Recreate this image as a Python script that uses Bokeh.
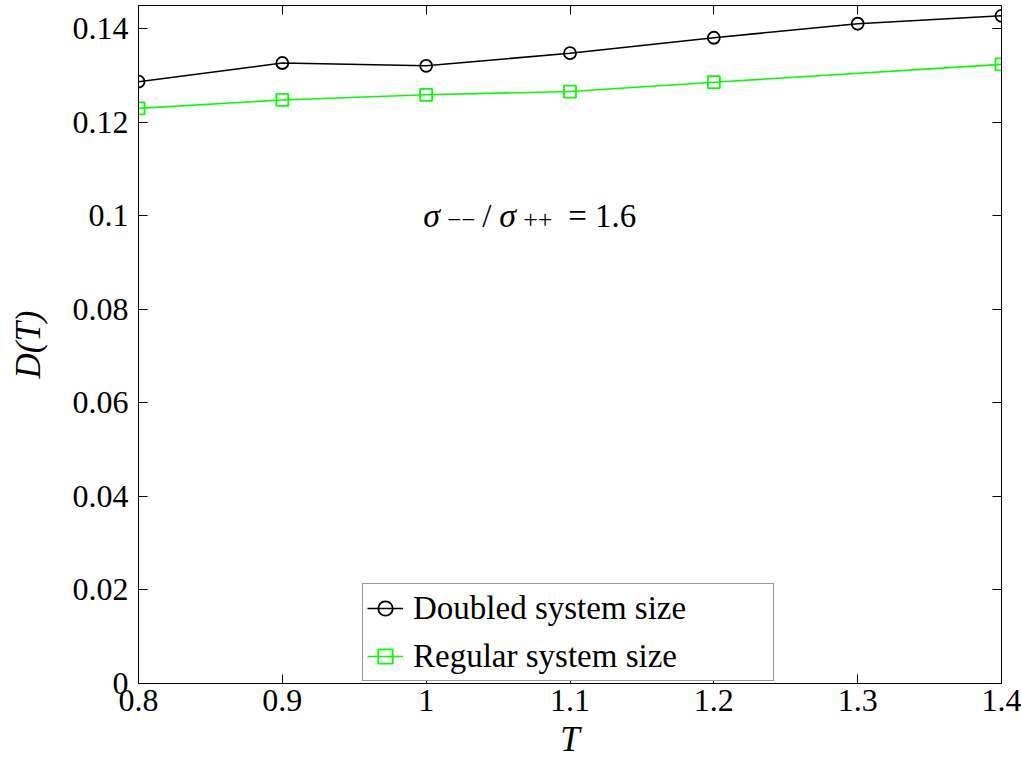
from bokeh.plotting import figure
from bokeh.models import (Range1d, FixedTicker, LinearAxis, Legend, LegendItem, Label)
from bokeh.embed import file_html
from bokeh.resources import INLINE

# ---- data ----
T_doubled = [0.8, 0.9, 1.0, 1.1, 1.2, 1.3, 1.4]
D_doubled = [0.1287, 0.1327, 0.1321, 0.1348, 0.1381, 0.1411, 0.1428]
T_regular = [0.8, 0.9, 1.0, 1.1, 1.2, 1.4]
D_regular = [0.1230, 0.1248, 0.1259, 0.1266, 0.1286, 0.1324]

x_ticks = [0.8, 0.9, 1.0, 1.1, 1.2, 1.3, 1.4]
x_tick_labels = ["0.8", "0.9", "1", "1.1", "1.2", "1.3", "1.4"]
y_ticks = [0, 0.02, 0.04, 0.06, 0.08, 0.1, 0.12, 0.14]
y_tick_labels = ["0", "0.02", "0.04", "0.06", "0.08", "0.1", "0.12", "0.14"]

series_names = ["Doubled system size", "Regular system size"]

FONT = "Liberation Serif"

p = figure(width=1021, height=765, output_backend="svg", toolbar_location=None,
           x_range=Range1d(0.8, 1.4), y_range=Range1d(0, 0.145),
           min_border_left=138, min_border_right=20, min_border_top=5, min_border_bottom=82)
p.background_fill_color = "white"
p.border_fill_color = "white"
p.outline_line_color = "black"
p.outline_line_width = 1
p.grid.visible = False

def style_axis(ax, ticks, labels, show_labels=True):
    ax.ticker = FixedTicker(ticks=ticks)
    if show_labels:
        ax.major_label_overrides = {t: l for t, l in zip(ticks, labels)}
    else:
        ax.major_label_overrides = {t: "" for t in ticks}
        ax.major_label_standoff = 0
    ax.major_tick_in = 9
    ax.major_tick_out = 0
    ax.minor_tick_in = 0
    ax.minor_tick_out = 0
    ax.axis_line_color = "black"
    ax.major_tick_line_color = "black"
    ax.major_label_text_font = FONT
    ax.major_label_text_color = "black"
    ax.major_label_text_font_size = "32px"

style_axis(p.xaxis[0], x_ticks, x_tick_labels)
style_axis(p.yaxis[0], y_ticks, y_tick_labels)
p.xaxis[0].major_label_standoff = 6
p.yaxis[0].major_label_standoff = 10

p.xaxis[0].axis_label = "T"
p.yaxis[0].axis_label = "D(T)"
for ax in (p.xaxis[0], p.yaxis[0]):
    ax.axis_label_text_font = FONT
    ax.axis_label_text_font_style = "italic"
    ax.axis_label_text_font_size = "35px"
    ax.axis_label_text_color = "black"
p.xaxis[0].axis_label_standoff = 6
p.yaxis[0].axis_label_standoff = 22

top_ax = LinearAxis()
right_ax = LinearAxis()
style_axis(top_ax, x_ticks, x_tick_labels, show_labels=False)
style_axis(right_ax, y_ticks, y_tick_labels, show_labels=False)
p.add_layout(top_ax, "above")
p.add_layout(right_ax, "right")

# ---- series ----
l1 = p.line(T_doubled, D_doubled, line_color="black", line_width=1.6)
m1 = p.scatter(T_doubled, D_doubled, marker="circle", size=12, line_color="black",
               line_width=1.8, fill_color=None)
l2 = p.line(T_regular, D_regular, line_color="#00ff00", line_width=1.6)
m2 = p.scatter(T_regular, D_regular, marker="square", size=12, line_color="#00ff00",
               line_width=1.8, fill_color=None)

legend = Legend(items=[LegendItem(label=series_names[0], renderers=[l1, m1]),
                       LegendItem(label=series_names[1], renderers=[l2, m2])],
                location=(224, 2))
legend.label_text_font = FONT
legend.label_text_font_size = "33px"
legend.label_text_color = "black"
legend.label_height = 40
legend.label_width = 356
legend.glyph_width = 36
legend.glyph_height = 40
legend.label_standoff = 10
legend.spacing = 8
legend.padding = 4
legend.margin = 0
legend.border_line_color = "#333333"
legend.border_line_width = 1
legend.background_fill_color = "white"
legend.background_fill_alpha = 1.0
p.add_layout(legend, "center")

# ---- annotation: sigma_{--}/sigma_{++} = 1.6 ----
ann_parts = [
    ("σ", "italic", "34px", -3, 0),
    ("−−", "normal", "25px", 21, -4),
    ("/", "normal", "33px", 56, 0),
    ("σ", "italic", "34px", 73, 0),
    ("++", "normal", "26px", 97, -4),
    ("= 1.6", "normal", "33px", 142, 0),
]
for txt, style, size, dx, dy in ann_parts:
    p.add_layout(Label(x=1.0, y=0.1, x_offset=dx, y_offset=dy, text=txt,
                       text_font=FONT, text_font_style=style, text_font_size=size,
                       text_color="black", text_baseline="alphabetic", text_align="left"))

open("out.html", "w").write(file_html(p, INLINE))
